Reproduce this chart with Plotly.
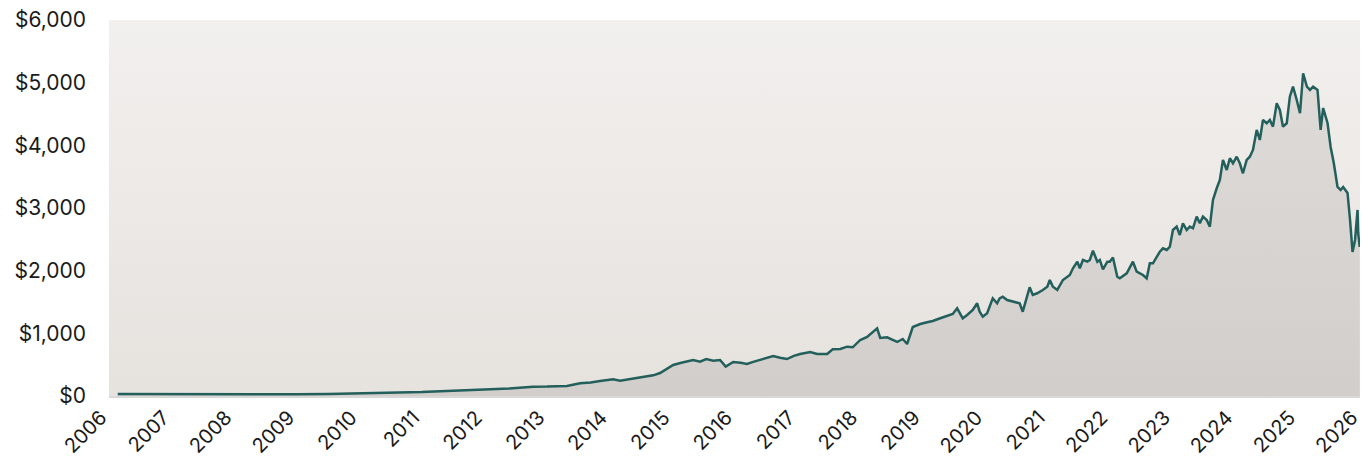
import pandas as pd
import plotly.graph_objects as go

# Decimal-year positions and prices
years = [
    2006.14, 2006.5, 2007.0, 2007.5, 2008.0, 2008.5, 2009.0, 2009.5, 2010.0, 2010.65,
    2011.0, 2011.4, 2011.72, 2012.0, 2012.4, 2012.78, 2013.0, 2013.32, 2013.53, 2013.7,
    2013.85, 2014.06, 2014.17, 2014.35, 2014.54, 2014.7, 2014.81, 2014.92, 2015.02, 2015.15,
    2015.34, 2015.45, 2015.55, 2015.66, 2015.77, 2015.86, 2015.98, 2016.1, 2016.2, 2016.3,
    2016.41, 2016.52, 2016.62, 2016.73, 2016.84, 2016.95, 2017.05, 2017.21, 2017.32, 2017.48,
    2017.57, 2017.69, 2017.8, 2017.89, 2018.01, 2018.12, 2018.21, 2018.28, 2018.33, 2018.44,
    2018.53, 2018.6, 2018.69, 2018.76, 2018.85, 2018.97, 2019.08, 2019.17, 2019.29, 2019.4,
    2019.49, 2019.56, 2019.65, 2019.72, 2019.81, 2019.88, 2019.92, 2019.97, 2020.04, 2020.13,
    2020.2, 2020.24, 2020.29, 2020.36, 2020.45, 2020.56, 2020.61, 2020.68, 2020.72, 2020.77,
    2020.84, 2020.93, 2021.0, 2021.04, 2021.09, 2021.16, 2021.25, 2021.36, 2021.41, 2021.48,
    2021.52, 2021.57, 2021.64, 2021.68, 2021.73, 2021.8, 2021.84, 2021.89, 2021.96, 2022.0,
    2022.05, 2022.12, 2022.16, 2022.27, 2022.37, 2022.43, 2022.53, 2022.59, 2022.64, 2022.69,
    2022.75, 2022.8, 2022.85, 2022.91, 2022.96, 2023.01, 2023.07, 2023.12, 2023.17, 2023.23,
    2023.28, 2023.33, 2023.39, 2023.44, 2023.49, 2023.55, 2023.6, 2023.65, 2023.71, 2023.76,
    2023.81, 2023.87, 2023.92, 2023.97, 2024.03, 2024.08, 2024.13, 2024.19, 2024.24, 2024.29,
    2024.35, 2024.4, 2024.45, 2024.51, 2024.56, 2024.61, 2024.67, 2024.72, 2024.77, 2024.83,
    2024.88, 2024.93, 2024.99, 2025.04, 2025.09, 2025.15, 2025.2, 2025.25, 2025.32, 2025.37,
    2025.41, 2025.48, 2025.53, 2025.58, 2025.64, 2025.69, 2025.73, 2025.8, 2025.84, 2025.88,
    2025.92, 2025.96, 2025.97, 2025.995,
]
prices = [
    30, 29, 31, 33, 32, 31, 27, 33, 40, 53,
    62, 80, 96, 102, 118, 149, 150, 160, 203, 215,
    239, 267, 245, 270, 303, 330, 367, 430, 495, 530,
    575, 548, 590, 564, 575, 469, 543, 530, 511, 545,
    575, 600, 638, 610, 590, 640, 670, 702, 670, 670,
    745, 750, 787, 777, 894, 942, 1026, 1080, 926, 937,
    894, 862, 910, 830, 1101, 1149, 1176, 1197, 1240, 1282,
    1309, 1400, 1240, 1293, 1373, 1480, 1345, 1266, 1320, 1559,
    1479, 1559, 1585, 1532, 1505, 1479, 1345, 1575, 1735, 1612,
    1639, 1692, 1744, 1851, 1744, 1692, 1851, 1931, 2038, 2143,
    2038, 2171, 2143, 2171, 2319, 2143, 2171, 2022, 2143, 2143,
    2210, 1904, 1878, 1958, 2143, 1984, 1931, 1878, 2118, 2118,
    2223, 2303, 2357, 2330, 2383, 2649, 2702, 2570, 2756, 2649,
    2702, 2676, 2862, 2756, 2862, 2809, 2702, 3128, 3315, 3447,
    3767, 3607, 3794, 3714, 3819, 3714, 3554, 3767, 3819, 3926,
    4245, 4086, 4405, 4352, 4405, 4298, 4671, 4565, 4298, 4352,
    4777, 4936, 4724, 4512, 5150, 4936, 4884, 4936, 4884, 4245,
    4596, 4357, 3974, 3719, 3336, 3288, 3336, 3240, 2809, 2298,
    2490, 2969, 2601, 2378,
]

x_start = "2006-01-01"
x_end = "2026-01-01"
x_ticks = [f"{y}-01-01" for y in range(2006, 2027)]
x_tick_labels = [str(y) for y in range(2006, 2027)]
y_ticks = [0, 1000, 2000, 3000, 4000, 5000, 6000]
y_tick_labels = ["$0", "$1,000", "$2,000", "$3,000", "$4,000", "$5,000", "$6,000"]


def to_date(y):
    base = int(y)
    return pd.Timestamp(base, 1, 1) + pd.Timedelta(days=(y - base) * 365.25)


dates = [to_date(y) for y in years]

fig = go.Figure()

# plot-area background gradient
fig.add_trace(go.Scatter(
    x=[x_start, x_end, x_end, x_start, x_start],
    y=[0, 0, 6000, 6000, 0],
    mode="lines", line=dict(width=0), fill="toself",
    fillgradient=dict(type="vertical", colorscale=[[0, "#e6e2de"], [1, "#f2f0ee"]]),
    hoverinfo="skip", showlegend=False,
))

fig.add_trace(go.Scatter(
    x=dates, y=prices, mode="lines",
    line=dict(color="#235f5b", width=2.5),
    fill="tozeroy",
    fillgradient=dict(type="vertical", colorscale=[[0, "#d1cecb"], [1, "#dedbd8"]],
                      start=0, stop=5200),
    showlegend=False,
))

fig.update_layout(
    width=1362, height=464,
    margin=dict(l=109, r=2, t=20, b=68, autoexpand=False),
    paper_bgcolor="white", plot_bgcolor="white",
    font=dict(family="Inter, Open Sans, sans-serif", size=21, color="#1a1a1a"),
    showlegend=False,
)
fig.update_xaxes(
    range=[x_start, x_end], type="date",
    tickvals=x_ticks, ticktext=x_tick_labels, tickangle=-45,
    showgrid=False, zeroline=False, automargin=False, ticklabeloverflow="allow",
    showline=True, linecolor="#d9d8d6", linewidth=2,
    ticks="", tickfont=dict(size=20), ticklabelshift=-8,
)
fig.update_yaxes(
    range=[0, 6000], tickvals=y_ticks, ticktext=y_tick_labels,
    showgrid=False, zeroline=False, showline=False, automargin=False,
    ticklabeloverflow="allow",
    ticks="", ticklabelstandoff=22, tickfont=dict(size=21),
)

fig.write_html(
    "out.html",
    config={"displayModeBar": False},
    post_script="document.body.style.margin='0';document.body.style.overflow='hidden';",
)
